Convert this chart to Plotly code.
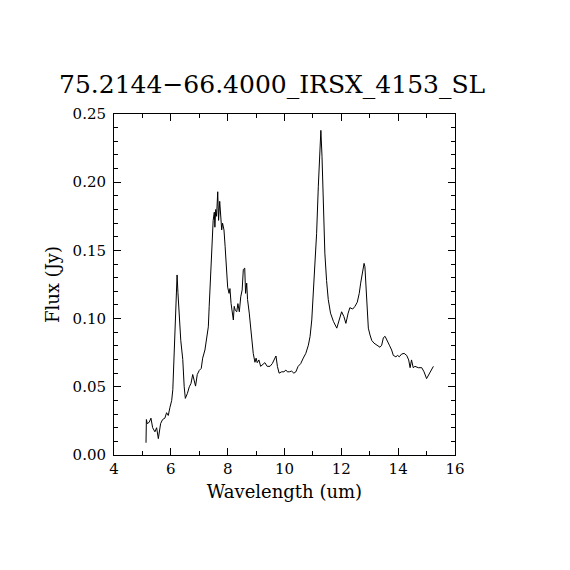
import plotly.graph_objects as go

# spectrum
wavelength = [
    5.126, 5.14, 5.17, 5.24, 5.30, 5.36, 5.44, 5.50, 5.56, 5.64, 5.71, 5.79, 5.85, 5.91,
    5.97, 6.03, 6.07, 6.11, 6.16, 6.21, 6.22, 6.25, 6.30, 6.35, 6.42, 6.44, 6.47, 6.51,
    6.58, 6.65, 6.71, 6.77, 6.81, 6.87, 6.93, 7.00, 7.07, 7.12, 7.20, 7.26, 7.32, 7.35,
    7.39, 7.42, 7.47, 7.49, 7.53, 7.55, 7.58, 7.61, 7.65, 7.68, 7.72, 7.75, 7.79, 7.82,
    7.87, 7.91, 7.97, 8.00, 8.05, 8.08, 8.12, 8.16, 8.20, 8.23, 8.27, 8.32, 8.36, 8.41,
    8.46, 8.51, 8.55, 8.60, 8.63, 8.67, 8.70, 8.76, 8.82, 8.84, 8.90, 8.96, 9.00, 9.04,
    9.10, 9.16, 9.23, 9.31, 9.39, 9.49, 9.57, 9.64, 9.70, 9.75, 9.81, 9.90, 9.98, 10.05,
    10.10, 10.17, 10.25, 10.33, 10.40, 10.48, 10.57, 10.66, 10.75, 10.84, 10.90, 10.96,
    11.01, 11.07, 11.13, 11.19, 11.25, 11.28, 11.32, 11.36, 11.42, 11.48, 11.54, 11.62,
    11.72, 11.84, 11.92, 12.01, 12.09, 12.16, 12.24, 12.30, 12.40, 12.48, 12.56, 12.63,
    12.68, 12.75, 12.80, 12.83, 12.87, 12.91, 12.95, 13.01, 13.07, 13.15, 13.24, 13.36,
    13.42, 13.48, 13.54, 13.62, 13.69, 13.77, 13.83, 13.92, 13.98, 14.04, 14.12, 14.21,
    14.30, 14.37, 14.42, 14.47, 14.53, 14.59, 14.71, 14.83, 14.91, 15.00, 15.12, 15.24,
]
flux = [
    0.009, 0.026, 0.023, 0.024, 0.027, 0.020, 0.017, 0.020, 0.012, 0.023, 0.026, 0.027, 0.031, 0.029,
    0.035, 0.040, 0.048, 0.070, 0.094, 0.121, 0.132, 0.119, 0.099, 0.084, 0.070, 0.057, 0.050, 0.0415,
    0.045, 0.050, 0.0525, 0.059, 0.055, 0.0505, 0.059, 0.062, 0.0635, 0.071, 0.077, 0.084, 0.094, 0.109,
    0.128, 0.136, 0.155, 0.172, 0.178, 0.167, 0.180, 0.175, 0.193, 0.172, 0.186, 0.177, 0.165, 0.170,
    0.165, 0.153, 0.136, 0.123, 0.1185, 0.122, 0.111, 0.104, 0.099, 0.109, 0.106, 0.105, 0.111, 0.105,
    0.116, 0.121, 0.136, 0.137, 0.1185, 0.126, 0.114, 0.104, 0.092, 0.084, 0.0745, 0.068, 0.071, 0.0677,
    0.0697, 0.065, 0.066, 0.0677, 0.065, 0.065, 0.067, 0.0697, 0.0726, 0.065, 0.060, 0.061, 0.061, 0.0623,
    0.061, 0.061, 0.0615, 0.060, 0.061, 0.065, 0.067, 0.071, 0.0745, 0.0805, 0.087, 0.099,
    0.116, 0.136, 0.1625, 0.197, 0.2236, 0.238, 0.219, 0.1845, 0.148, 0.128, 0.114, 0.104,
    0.098, 0.093, 0.099, 0.105, 0.1015, 0.0965, 0.104, 0.108, 0.107, 0.109, 0.112, 0.1185,
    0.126, 0.133, 0.1405, 0.138, 0.123, 0.1015, 0.093, 0.088, 0.084, 0.082, 0.0805, 0.079,
    0.0805, 0.086, 0.087, 0.084, 0.0805, 0.077, 0.073, 0.072, 0.073, 0.072, 0.074, 0.0745,
    0.073, 0.0697, 0.064, 0.0697, 0.064, 0.065, 0.064, 0.064, 0.061, 0.056, 0.060, 0.065,
]

title = "75.2144\u221266.4000_IRSX_4153_SL"
font = "DejaVu Serif"

fig = go.Figure()
fig.add_trace(go.Scatter(x=wavelength, y=flux, mode="lines",
                         line=dict(color="black", width=1), showlegend=False))

axis_common = dict(
    showgrid=False, zeroline=False, showline=True, linecolor="black", linewidth=1,
    mirror="ticks", ticks="inside", ticklen=7, tickcolor="black", tickwidth=1,
    tickfont=dict(family=font, size=15, color="black"),
)

fig.update_xaxes(
    range=[4, 16], dtick=2, tick0=4,
    minor=dict(dtick=1, ticks="inside", ticklen=4, tickcolor="black", showgrid=False),
    title=dict(text="Wavelength (um)", font=dict(family=font, size=18, color="black"), standoff=8),
    **axis_common,
)
fig.update_yaxes(
    range=[0, 0.25], dtick=0.05, tickformat=".2f", ticklabelstandoff=4,
    minor=dict(dtick=0.01, ticks="inside", ticklen=4, tickcolor="black", showgrid=False),
    title=dict(text="Flux (Jy)", font=dict(family=font, size=18, color="black"), standoff=8),
    **axis_common,
)

# the page body adds an 8px offset, so the figure is a bit smaller than the window
fig.update_layout(
    width=562, height=562,
    margin=dict(l=106, r=115, t=106, b=115),
    paper_bgcolor="white", plot_bgcolor="white",
    title=dict(text=title, x=0.47, xanchor="center", y=0.865, yanchor="middle",
               font=dict(family=font, size=25, color="black")),
)

fig.write_html("out.html")
